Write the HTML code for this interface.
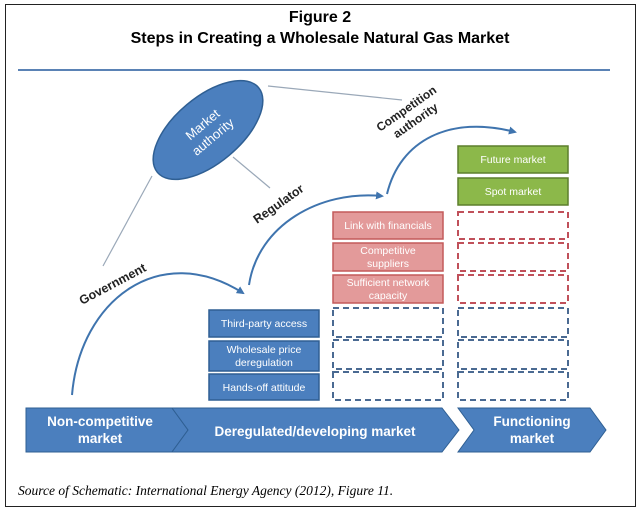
<!DOCTYPE html><html><head><style>body{margin:0;background:#fff}</style></head><body>
<svg width="641" height="512" xmlns="http://www.w3.org/2000/svg" font-family="Liberation Sans, sans-serif">
<rect x="5.5" y="4.5" width="630" height="502" fill="#fff" stroke="#222" stroke-width="1"/>
<text x="320" y="22" text-anchor="middle" font-weight="bold" font-size="16">Figure 2</text>
<text x="320" y="43" text-anchor="middle" font-weight="bold" font-size="16">Steps in Creating a Wholesale Natural Gas Market</text>
<line x1="18" y1="70" x2="610" y2="70" stroke="#5a82b5" stroke-width="2"/>
<defs><marker id="a" markerWidth="8" markerHeight="8" refX="6" refY="4" orient="auto" markerUnits="userSpaceOnUse"><path d="M0,0 L8,4 L0,8 z" fill="#3f74ae"/></marker></defs>
<g stroke="#9aa8b8" stroke-width="1.2" fill="none">
<line x1="268" y1="86" x2="402" y2="100"/>
<line x1="152" y1="176" x2="103" y2="266"/>
<line x1="233" y1="157" x2="270" y2="188"/>
</g>
<ellipse cx="208" cy="130" rx="66" ry="33" transform="rotate(-40 208 130)" fill="#4b7fbe" stroke="#2f5f93" stroke-width="1.5"/>
<text transform="translate(208 131) rotate(-40)" fill="#fff" font-size="13" text-anchor="middle"><tspan x="0" y="-4">Market</tspan><tspan x="0" y="12">authority</tspan></text>
<g stroke="#3f74ae" stroke-width="2" fill="none" marker-end="url(#a)">
<path d="M72,395 C80,300 160,240 243,293"/>
<path d="M249,285 C258,225 320,190 382,196"/>
<path d="M387,194 C400,140 450,115 515,132"/>
</g>
<text transform="translate(82 305) rotate(-28)" font-size="12.5" font-weight="bold" fill="#222">Government</text>
<text transform="translate(257 224) rotate(-35)" font-size="12.5" font-weight="bold" fill="#222">Regulator</text>
<text transform="translate(380 132) rotate(-35)" font-size="12" font-weight="bold" fill="#222"><tspan x="0" y="0">Competition</tspan><tspan x="10" y="15">authority</tspan></text>
<g stroke="#2f5f93" stroke-width="1.5" fill="#4b7fbe">
<rect x="209" y="310" width="110" height="27"/><rect x="209" y="341" width="110" height="30"/><rect x="209" y="374" width="110" height="26"/></g>
<g stroke="#c35a5a" stroke-width="1.5" fill="#e39a9a">
<rect x="333" y="212" width="110" height="27"/><rect x="333" y="243" width="110" height="28"/><rect x="333" y="275" width="110" height="28"/></g>
<g stroke="#5d7f2c" stroke-width="1.5" fill="#8cb84a">
<rect x="458" y="146" width="110" height="27"/><rect x="458" y="178" width="110" height="27"/></g>
<g fill="none" stroke-width="2" stroke-dasharray="6,4">
<g stroke="#4a6a92"><rect x="333" y="308" width="110" height="29"/><rect x="333" y="340" width="110" height="29"/><rect x="333" y="372" width="110" height="28"/>
<rect x="458" y="308" width="110" height="29"/><rect x="458" y="340" width="110" height="29"/><rect x="458" y="372" width="110" height="28"/></g>
<g stroke="#c0505a"><rect x="458" y="212" width="110" height="27"/><rect x="458" y="243" width="110" height="28"/><rect x="458" y="275" width="110" height="28"/></g>
</g>
<g fill="#fff" font-size="10.5" text-anchor="middle">
<text x="264" y="327">Third-party access</text><text x="264" y="353">Wholesale price</text><text x="264" y="366">deregulation</text><text x="264" y="391">Hands-off attitude</text>
<text x="388" y="229">Link with financials</text><text x="388" y="254">Competitive</text><text x="388" y="267">suppliers</text><text x="388" y="286">Sufficient network</text><text x="388" y="299">capacity</text>
<text x="513" y="163">Future market</text><text x="513" y="195">Spot market</text></g>
<g fill="#4b7fbe" stroke="#2f5f93" stroke-width="1">
<path d="M26,408 H172 L188,430 L172,452 H26 z"/>
<path d="M172,408 H442 L459,430 L442,452 H172 L188,430 z"/>
<path d="M458,408 H590 L606,430 L590,452 H458 L474,430 z"/></g>
<g fill="#fff" font-size="13.5" font-weight="bold" text-anchor="middle">
<text x="100" y="426">Non-competitive</text><text x="100" y="443">market</text>
<text x="315" y="436">Deregulated/developing market</text>
<text x="532" y="426">Functioning</text><text x="532" y="443">market</text></g>
<text x="18" y="495" font-family="Liberation Serif, serif" font-style="italic" font-size="13.5">Source of Schematic: International Energy Agency (2012), Figure 11.</text>
</svg></body></html>
